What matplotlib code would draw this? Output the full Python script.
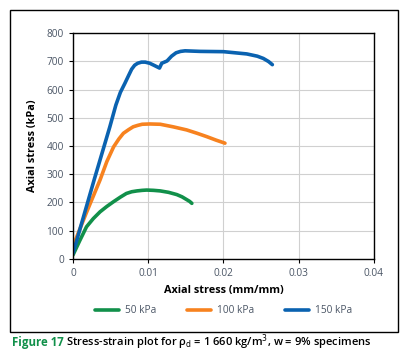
import numpy as np
import matplotlib.pyplot as plt
from matplotlib.patches import Rectangle

strain_50 = [0.0, 0.0009, 0.0018, 0.0027, 0.0036, 0.0045, 0.0054, 0.0063, 0.0071, 0.0078, 0.0085,
             0.0092, 0.0098, 0.0107, 0.0116, 0.0127, 0.0138, 0.0145, 0.0150, 0.0155, 0.0158]
stress_50 = [14, 65, 114, 143, 167, 186, 203, 219, 232, 238, 241,
             243, 244, 243, 241, 236, 228, 220, 212, 204, 197]

strain_100 = [0.0, 0.0018, 0.0036, 0.0045, 0.0054, 0.0061, 0.0067, 0.0074, 0.0080, 0.0086, 0.0092,
              0.0102, 0.0116, 0.0133, 0.0151, 0.0165, 0.0178, 0.0190, 0.0202]
stress_100 = [45, 165, 280, 345, 397, 425, 445, 458, 468, 473, 477,
              478, 477, 468, 457, 445, 433, 421, 410]

strain_150 = [0.0, 0.0028, 0.0049, 0.0057, 0.0063, 0.0069, 0.0074, 0.0078, 0.0082, 0.0086, 0.0091,
              0.0096, 0.0102, 0.0109, 0.0115, 0.0118, 0.0125, 0.0131, 0.0137, 0.0143, 0.0149,
              0.0169, 0.0200, 0.0231, 0.0245, 0.0253, 0.0260, 0.0265]
stress_150 = [20, 279, 468, 545, 590, 622, 650, 672, 686, 693, 697,
              697, 693, 684, 676, 693, 701, 718, 730, 735, 737,
              735, 734, 726, 718, 710, 699, 688]

labels = ['50 kPa', '100 kPa', '150 kPa']
colors = ['#11904a', '#f7821f', '#0a62b0']

plt.rcParams['font.family'] = ['Open Sans', 'DejaVu Sans']

fig = plt.figure(figsize=(4.10, 3.59), dpi=100)
fig.patches.append(Rectangle((0.0244, 0.075), 0.946, 0.897, transform=fig.transFigure,
                             fill=False, edgecolor='black', linewidth=1.0))

ax = fig.add_axes([0.178, 0.2786, 0.734, 0.6294])
for sx, sy, lab, c in zip([strain_50, strain_100, strain_150],
                          [stress_50, stress_100, stress_150], labels, colors):
    ax.plot(sx, sy, color=c, linewidth=2.6, label=lab, solid_capstyle='round',
            solid_joinstyle='round')

ax.set_xlim(0, 0.04)
ax.set_ylim(0, 800)
ax.set_xticks([0, 0.01, 0.02, 0.03, 0.04])
ax.set_xticklabels(['0', '0.01', '0.02', '0.03', '0.04'])
ax.set_yticks(range(0, 801, 100))
ax.grid(color='#d0d0d0', linewidth=0.8)
ax.set_axisbelow(True)
for s in ax.spines.values():
    s.set_linewidth(1.0)
    s.set_color('black')
ax.tick_params(labelsize=7.3, colors='black', labelcolor='#4a5565', length=3, width=0.8)
ax.set_xlabel('Axial stress (mm/mm)', fontsize=7.8, fontweight='bold', labelpad=4)
ax.set_ylabel('Axial stress (kPa)', fontsize=7.8, fontweight='bold', labelpad=6)

ax.legend(loc='upper center', bbox_to_anchor=(0.5, -0.165), ncol=3, frameon=False,
          fontsize=7.3, labelcolor='#4a5565', handlelength=2.4, columnspacing=3.0,
          handletextpad=0.6)

fig.text(0.03, 0.047, 'Figure 17', color='#11904a', fontsize=8.3, fontweight='bold',
         va='center')
fig.text(0.162, 0.047, r'Stress-strain plot for ρ$_\mathrm{d}$ = 1 660 kg/m$^3$, w = 9% specimens',
         fontsize=8.0, fontweight='semibold', va='center')

plt.savefig('out.png', dpi=100)
